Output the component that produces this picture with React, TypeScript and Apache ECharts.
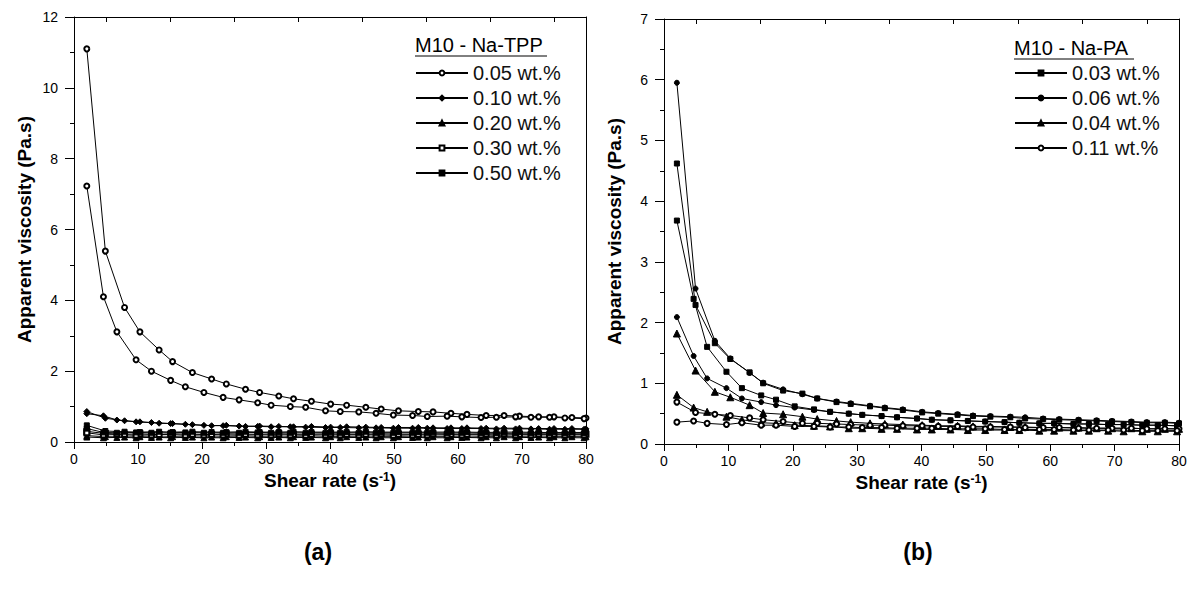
import React, { useEffect, useRef } from "react";
import * as echarts from "echarts";

// Shear-rate grids (s^-1) for the ramp-up and ramp-down curves
const shearUp = [2, 4.9, 7.9, 10.3, 13.3, 15.4, 18.5, 21.5, 23.8, 26.8, 29.0, 32.0, 34.3, 37.1, 40.1, 42.6, 45.6, 48.0, 50.7, 53.8, 56.1, 58.9, 61.4, 64.4, 67.2, 69.6, 72.6, 75.0, 77.8, 80.0];
const shearDown = [2, 4.6, 6.7, 9.7, 12.1, 15.1, 17.4, 20.3, 23.3, 25.8, 28.7, 30.8, 33.8, 36.2, 39.3, 41.6, 44.5, 47.2, 49.9, 52.9, 55.2, 58.3, 60.6, 63.6, 66.0, 69.0, 71.4, 74.3, 76.7, 79.7];

// (a) M10 - Na-TPP
const tppNames = ["0.05 wt.%", "0.10 wt.%", "0.20 wt.%", "0.30 wt.%", "0.50 wt.%"];
const tpp005Up = [11.1, 5.39, 3.8, 3.11, 2.6, 2.27, 1.96, 1.78, 1.64, 1.49, 1.4, 1.3, 1.22, 1.15, 1.07, 1.04, 0.98, 0.93, 0.88, 0.86, 0.85, 0.81, 0.78, 0.75, 0.75, 0.73, 0.71, 0.71, 0.69, 0.68];
const tpp005Down = [7.23, 4.1, 3.11, 2.32, 2.0, 1.74, 1.56, 1.4, 1.26, 1.19, 1.11, 1.04, 1.0, 0.98, 0.88, 0.86, 0.85, 0.81, 0.76, 0.75, 0.72, 0.73, 0.71, 0.69, 0.7, 0.71, 0.7, 0.7, 0.68, 0.66];
const tpp010Up = [0.86, 0.67, 0.6, 0.57, 0.53, 0.52, 0.49, 0.46, 0.47, 0.44, 0.45, 0.44, 0.43, 0.44, 0.42, 0.43, 0.42, 0.41, 0.41, 0.41, 0.4, 0.4, 0.4, 0.39, 0.39, 0.39, 0.38, 0.38, 0.38, 0.37];
const tpp010Down = [0.8, 0.74, 0.62, 0.57, 0.55, 0.52, 0.5, 0.47, 0.46, 0.45, 0.44, 0.43, 0.43, 0.42, 0.41, 0.41, 0.4, 0.4, 0.39, 0.39, 0.39, 0.38, 0.38, 0.38, 0.37, 0.37, 0.37, 0.36, 0.36, 0.36];
const tpp020Up = [0.18, 0.15, 0.14, 0.15, 0.14, 0.15, 0.14, 0.14, 0.15, 0.14, 0.15, 0.14, 0.15, 0.14, 0.15, 0.15, 0.14, 0.15, 0.15, 0.14, 0.15, 0.15, 0.14, 0.15, 0.15, 0.15, 0.14, 0.15, 0.15, 0.15];
const tpp020Down = [0.14, 0.12, 0.13, 0.12, 0.13, 0.12, 0.13, 0.12, 0.12, 0.13, 0.12, 0.13, 0.12, 0.13, 0.12, 0.12, 0.13, 0.12, 0.12, 0.13, 0.12, 0.12, 0.13, 0.12, 0.12, 0.12, 0.13, 0.12, 0.12, 0.12];
const tpp030Up = [0.3, 0.24, 0.22, 0.23, 0.21, 0.23, 0.22, 0.21, 0.23, 0.22, 0.22, 0.23, 0.22, 0.22, 0.23, 0.22, 0.22, 0.23, 0.22, 0.22, 0.23, 0.22, 0.22, 0.22, 0.23, 0.22, 0.22, 0.22, 0.22, 0.22];
const tpp030Down = [0.26, 0.2, 0.21, 0.19, 0.2, 0.21, 0.19, 0.2, 0.2, 0.19, 0.2, 0.2, 0.2, 0.19, 0.2, 0.2, 0.2, 0.2, 0.19, 0.2, 0.2, 0.2, 0.2, 0.2, 0.19, 0.2, 0.2, 0.2, 0.2, 0.2];
const tpp050Up = [0.47, 0.31, 0.29, 0.28, 0.29, 0.28, 0.29, 0.28, 0.28, 0.29, 0.28, 0.28, 0.29, 0.28, 0.28, 0.28, 0.29, 0.28, 0.28, 0.28, 0.28, 0.28, 0.28, 0.27, 0.28, 0.28, 0.27, 0.27, 0.27, 0.27];
const tpp050Down = [0.38, 0.27, 0.26, 0.27, 0.26, 0.26, 0.27, 0.26, 0.26, 0.26, 0.27, 0.26, 0.26, 0.26, 0.26, 0.26, 0.26, 0.26, 0.26, 0.26, 0.26, 0.25, 0.26, 0.25, 0.25, 0.25, 0.25, 0.25, 0.25, 0.25];

// (b) M10 - Na-PA
const paNames = ["0.03 wt.%", "0.06 wt.%", "0.04 wt.%", "0.11 wt.%"];
const pa003Up = [4.62, 2.29, 1.66, 1.4, 1.18, 1.0, 0.88, 0.83, 0.75, 0.69, 0.66, 0.62, 0.59, 0.56, 0.52, 0.5, 0.48, 0.46, 0.45, 0.44, 0.42, 0.41, 0.4, 0.39, 0.38, 0.37, 0.36, 0.35, 0.35, 0.34];
const pa003Down = [3.68, 2.39, 1.6, 1.19, 0.92, 0.8, 0.73, 0.62, 0.57, 0.53, 0.5, 0.48, 0.46, 0.44, 0.42, 0.4, 0.39, 0.38, 0.37, 0.36, 0.35, 0.34, 0.34, 0.33, 0.33, 0.32, 0.32, 0.31, 0.31, 0.3];
const pa006Up = [5.95, 2.56, 1.7, 1.41, 1.17, 1.01, 0.9, 0.82, 0.75, 0.7, 0.67, 0.63, 0.6, 0.57, 0.53, 0.51, 0.49, 0.47, 0.46, 0.45, 0.44, 0.42, 0.41, 0.4, 0.39, 0.38, 0.37, 0.36, 0.36, 0.35];
const pa006Down = [2.09, 1.45, 1.08, 0.92, 0.75, 0.69, 0.64, 0.6, 0.56, 0.53, 0.5, 0.48, 0.46, 0.44, 0.42, 0.4, 0.39, 0.38, 0.37, 0.36, 0.35, 0.34, 0.34, 0.33, 0.33, 0.32, 0.32, 0.31, 0.31, 0.3];
const pa004Up = [1.82, 1.21, 0.86, 0.77, 0.64, 0.51, 0.49, 0.45, 0.41, 0.38, 0.36, 0.34, 0.33, 0.32, 0.31, 0.3, 0.3, 0.29, 0.29, 0.28, 0.28, 0.27, 0.27, 0.27, 0.26, 0.26, 0.26, 0.25, 0.25, 0.25];
const pa004Down = [0.81, 0.6, 0.53, 0.45, 0.4, 0.35, 0.34, 0.31, 0.3, 0.29, 0.26, 0.26, 0.25, 0.25, 0.24, 0.24, 0.24, 0.23, 0.23, 0.23, 0.23, 0.22, 0.22, 0.22, 0.22, 0.22, 0.21, 0.21, 0.21, 0.21];
const pa011Up = [0.69, 0.52, 0.49, 0.47, 0.43, 0.4, 0.37, 0.34, 0.34, 0.33, 0.32, 0.31, 0.31, 0.3, 0.3, 0.29, 0.29, 0.28, 0.28, 0.28, 0.27, 0.27, 0.27, 0.26, 0.26, 0.26, 0.26, 0.25, 0.25, 0.25];
const pa011Down = [0.36, 0.38, 0.34, 0.32, 0.35, 0.31, 0.31, 0.29, 0.29, 0.28, 0.28, 0.27, 0.27, 0.26, 0.26, 0.26, 0.25, 0.25, 0.25, 0.24, 0.24, 0.24, 0.24, 0.23, 0.23, 0.23, 0.23, 0.22, 0.22, 0.22];

const yTicksA = { min: 0, max: 12, interval: 2 };
const yTicksB = { min: 0, max: 7, interval: 1 };
const xTicks = { min: 0, max: 80, interval: 10 };

const FONT = "'Liberation Sans', Arial, sans-serif";

function curve(name: string, idx: number, xs: number[], ys: number[], symbol: string, size: number) {
  return {
    type: "line",
    name,
    xAxisIndex: idx * 2,
    yAxisIndex: idx * 2,
    data: xs.map((x, i) => [x, ys[i]]),
    symbol,
    symbolSize: size,
    showSymbol: true,
    lineStyle: { color: "#000", width: 1 },
    itemStyle: { color: "#000", borderColor: "#000", borderWidth: 1 },
    emphasis: { disabled: true },
  };
}

function mainX(grid: number) {
  return {
    type: "value",
    gridIndex: grid,
    ...xTicks,
    name: "Shear rate (s{sup|-1})",
    nameLocation: "middle",
    nameGap: 21,
    nameTextStyle: {
      fontFamily: FONT,
      fontSize: 19,
      fontWeight: "bold",
      color: "#000",
      rich: { sup: { fontFamily: FONT, fontSize: 12, fontWeight: "bold", verticalAlign: "top", color: "#000" } },
    },
    axisLine: { onZero: false, lineStyle: { color: "#000", width: 1 } },
    axisTick: { length: 7, lineStyle: { color: "#000" } },
    minorTick: { show: true, splitNumber: 2, length: 4, lineStyle: { color: "#000" } },
    splitLine: { show: false },
    axisLabel: { fontFamily: FONT, fontSize: 14, color: "#000", margin: 10 },
  };
}

function topX(grid: number) {
  return {
    type: "value",
    gridIndex: grid,
    position: "top",
    ...xTicks,
    axisLine: { onZero: false, lineStyle: { color: "#000", width: 1 } },
    axisTick: { show: false, inside: true },
    minorTick: { show: true, splitNumber: 2, length: 5, lineStyle: { color: "#000" } },
    splitLine: { show: false },
    axisLabel: { show: false },
  };
}

function mainY(grid: number, ticks: any) {
  return {
    type: "value",
    gridIndex: grid,
    ...ticks,
    name: "Apparent viscosity (Pa.s)",
    nameLocation: "middle",
    nameGap: 40,
    nameTextStyle: { fontFamily: FONT, fontSize: 19, fontWeight: "bold", color: "#000" },
    axisLine: { onZero: false, lineStyle: { color: "#000", width: 1 } },
    axisTick: { length: 9, lineStyle: { color: "#000" } },
    minorTick: { show: true, splitNumber: 2, length: 4, lineStyle: { color: "#000" } },
    splitLine: { show: false },
    axisLabel: { fontFamily: FONT, fontSize: 14, color: "#000", margin: 16 },
  };
}

function rightY(grid: number, ticks: any) {
  return {
    type: "value",
    gridIndex: grid,
    position: "right",
    ...ticks,
    axisLine: { show: true, onZero: false, lineStyle: { color: "#000", width: 1 } },
    axisTick: { show: false },
    splitLine: { show: false },
    axisLabel: { show: false },
  };
}

function legendFor(names: string[], left: number) {
  return {
    data: names,
    orient: "vertical",
    left,
    top: 63,
    padding: 0,
    itemWidth: 52,
    itemHeight: 6,
    itemGap: 5,
    selectedMode: false,
    textStyle: { fontFamily: FONT, fontSize: 20, color: "#111" },
  };
}

function titleText(text: string, x: number, y: number, size: number, bold: boolean) {
  return {
    type: "text",
    x,
    y,
    style: {
      text,
      fill: "#000",
      font: `${bold ? "bold " : ""}${size}px ${FONT}`,
      textAlign: bold ? "center" : "left",
      textVerticalAlign: "middle",
    },
  };
}

export default function App() {
  const ref = useRef<HTMLDivElement>(null);
  useEffect(() => {
    if (!ref.current) return;
    const chart = echarts.init(ref.current, null, { renderer: "svg" });
    const option: any = {
      animation: false,
      backgroundColor: "#fff",
      grid: [
        { left: 74, top: 17, width: 512, height: 425 },
        { left: 664, top: 19, width: 515, height: 425 },
      ],
      xAxis: [mainX(0), topX(0), mainX(1), topX(1)],
      yAxis: [mainY(0, yTicksA), rightY(0, yTicksA), mainY(1, yTicksB), rightY(1, yTicksB)],
      legend: [legendFor(tppNames, 415), legendFor(paNames, 1014)],
      series: [
        curve(tppNames[0], 0, shearUp, tpp005Up, "emptyCircle", 5),
        curve(tppNames[0], 0, shearDown, tpp005Down, "emptyCircle", 5),
        curve(tppNames[1], 0, shearUp, tpp010Up, "diamond", 6),
        curve(tppNames[1], 0, shearDown, tpp010Down, "diamond", 6),
        curve(tppNames[2], 0, shearUp, tpp020Up, "triangle", 6),
        curve(tppNames[2], 0, shearDown, tpp020Down, "triangle", 6),
        curve(tppNames[3], 0, shearUp, tpp030Up, "emptyRect", 5),
        curve(tppNames[3], 0, shearDown, tpp030Down, "emptyRect", 5),
        curve(tppNames[4], 0, shearUp, tpp050Up, "rect", 5),
        curve(tppNames[4], 0, shearDown, tpp050Down, "rect", 5),
        curve(paNames[0], 1, shearUp, pa003Up, "rect", 5),
        curve(paNames[0], 1, shearDown, pa003Down, "rect", 5),
        curve(paNames[1], 1, shearUp, pa006Up, "circle", 5),
        curve(paNames[1], 1, shearDown, pa006Down, "circle", 5),
        curve(paNames[2], 1, shearUp, pa004Up, "triangle", 7),
        curve(paNames[2], 1, shearDown, pa004Down, "triangle", 7),
        curve(paNames[3], 1, shearUp, pa011Up, "emptyCircle", 5),
        curve(paNames[3], 1, shearDown, pa011Down, "emptyCircle", 5),
      ],
      graphic: [
        titleText("M10 - Na-TPP", 415, 45, 20, false),
        { type: "line", shape: { x1: 415, y1: 56, x2: 547, y2: 56 }, style: { stroke: "#000", lineWidth: 1 } },
        titleText("M10 - Na-PA", 1014, 48, 20, false),
        { type: "line", shape: { x1: 1014, y1: 59, x2: 1134, y2: 59 }, style: { stroke: "#000", lineWidth: 1 } },
        titleText("(a)", 318, 552, 23, true),
        titleText("(b)", 918, 552, 23, true),
      ],
    };
    chart.setOption(option);
    return () => chart.dispose();
  }, []);
  return (
    <div
      ref={ref}
      style={{ position: "fixed", left: 0, top: 0, width: 1193, height: 596, background: "#fff" }}
    />
  );
}
